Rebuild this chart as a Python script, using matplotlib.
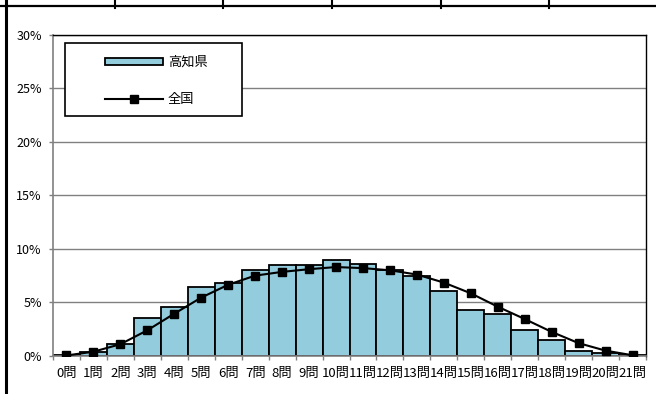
import matplotlib
matplotlib.use("Agg")
import matplotlib.pyplot as plt
from matplotlib.lines import Line2D
from matplotlib.patches import Rectangle
import numpy as np

plt.rcParams['font.family'] = ['Noto Sans CJK JP', 'DejaVu Sans']

# Number of correct answers (0..21) and share of students (%)
categories = [f"{i}問" for i in range(22)]
kochi = [0.05, 0.4, 1.1, 3.5, 4.6, 6.4, 6.8, 8.0, 8.45, 8.45, 8.95,
         8.6, 8.0, 7.5, 6.1, 4.3, 3.9, 2.4, 1.5, 0.5, 0.25, 0.05]
national = [0.05, 0.4, 1.1, 2.4, 3.95, 5.45, 6.65, 7.5, 7.85, 8.1, 8.3,
            8.2, 8.0, 7.6, 6.85, 5.85, 4.6, 3.45, 2.25, 1.2, 0.5, 0.07]
yticks = [0, 5, 10, 15, 20, 25, 30]
ytick_labels = [f"{v}%" for v in yticks]

W, H = 656, 394
fig = plt.figure(figsize=(W / 100, H / 100), dpi=100)
ax = fig.add_axes([53 / W, 1 - 356 / H, (646 - 53) / W, (356 - 34.5) / H])

x = np.arange(len(categories))
bars = ax.bar(x, kochi, width=1.0, color="#93CDDD", edgecolor="black",
              linewidth=1.3, zorder=2, label="高知県")
line, = ax.plot(x, national, color="black", linewidth=1.5, marker="s",
                markersize=5.5, zorder=3, label="全国")

ax.set_xlim(-0.5, len(categories) - 0.5)
ax.set_ylim(0, 30)
ax.set_yticks(yticks)
ax.set_yticklabels(ytick_labels)
ax.set_xticks(x)
ax.set_xticklabels(categories)
ax.set_xticks(np.arange(-0.5, len(categories), 1.0), minor=True)
ax.tick_params(axis="x", which="major", length=0, pad=8, labelsize=9.5)
ax.tick_params(axis="x", which="minor", length=3, color="#808080", width=1)
ax.tick_params(axis="y", length=3, color="#808080", width=1, pad=5,
               labelsize=9)
ax.grid(axis="y", color="#808080", linewidth=1, zorder=0)
ax.set_axisbelow(True)

for side in ("left", "bottom"):
    ax.spines[side].set_color("#808080")
    ax.spines[side].set_linewidth(1.2)
for side in ("top", "right"):
    ax.spines[side].set_color("black")
    ax.spines[side].set_linewidth(1.0)

# Legend entries, with a separate box drawn around them
leg = ax.legend(handles=[bars, line], labels=["高知県", "全国"],
                loc="upper left", bbox_transform=fig.transFigure,
                bbox_to_anchor=(105 / W, 1 - 56 / H),
                frameon=False, fontsize=9.5, handlelength=4.4,
                handleheight=0.5, borderpad=0, labelspacing=1.85,
                handletextpad=0.35, borderaxespad=0)
ax.add_artist(Rectangle((65 / W, 1 - 116 / H), (242 - 65) / W, (116 - 43) / H,
                        transform=fig.transFigure, facecolor="white",
                        edgecolor="black", linewidth=1.2, zorder=4))
leg.set_zorder(5)

# Surrounding table frame
fig.add_artist(Line2D([0, 1], [1 - 5.7 / H] * 2, color="black",
                      linewidth=1.6, transform=fig.transFigure))
fig.add_artist(Line2D([6 / W] * 2, [0, 1], color="black",
                      linewidth=2.2, transform=fig.transFigure))
for xs in (115, 223, 332, 441, 549):
    fig.add_artist(Line2D([xs / W] * 2, [1, 1 - 8 / H], color="black",
                          linewidth=1.5, transform=fig.transFigure))

fig.savefig("out.png", dpi=100)
